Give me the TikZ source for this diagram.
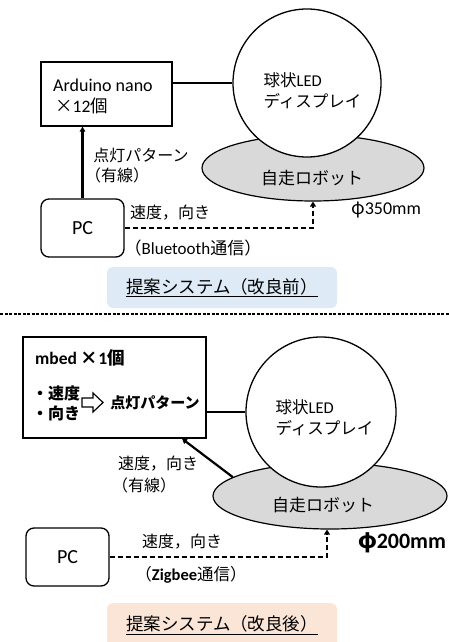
\documentclass[tikz,border=0pt]{standalone}
\usepackage{fontspec}
\setmainfont{Carlito}
\newfontfamily\J{Noto Sans CJK JP}
\usetikzlibrary{arrows.meta,shapes.geometric,calc}
\definecolor{robotgray}{HTML}{D9D9D9}
\definecolor{capblue}{HTML}{DEEBF7}
\definecolor{cappeach}{HTML}{FBE5D6}
\newcommand{\fs}[2][0]{\fontsize{#2}{21}\selectfont}
\begin{document}
\begin{tikzpicture}[x=1pt,y=-1pt,
  box/.style={draw,line width=1.3pt,inner sep=0pt,fill=white},
  txt/.style={inner sep=0pt},
  disc/.style={draw,circle,line width=1.3pt,fill=white,inner sep=0pt},
  robot/.style={draw,ellipse,line width=1.2pt,fill=robotgray,inner sep=0pt},
  conn/.style={line width=1.3pt},
  arr/.style={line width=2.2pt,-{Triangle[length=5pt,width=5.5pt]}},
  dsh/.style={line width=2.2pt,dash pattern=on 5pt off 3pt,-{Triangle[length=5pt,width=6pt]}},
  capbox/.style={rounded corners=6pt,inner sep=0pt},
  sepline/.style={line width=2pt,dash pattern=on 3pt off 1.5pt},
  hollow/.style={draw,line width=1.2pt,fill=white,line join=miter}
]
\useasboundingbox (0,0) rectangle (449,642);

% ---------- upper half ----------
\node[robot,minimum width=222,minimum height=66] (rob) at (313,168) {};
\node[disc,minimum size=148] (sph) at (307,83) {};
\node[txt,align=left,font=\fs{16.5}] (spht) at (312.5,91) {{\J 球状}LED\\{\J ディスプレイ}};
\node[txt,font=\fs{17}] (robt) at (312,178) {\J 自走ロボット};

\node[box,minimum width=131,minimum height=64] (ard) at (106.5,94) {};
\node[txt,anchor=west,font=\fs{18}] (ardt1) at (53,85) {Arduino nano};
\node[txt,anchor=west,font=\fs{17.5}] (ardt2) at (55,106) {{\J ×}12{\J 個}};
\draw[conn] (sph.west) -- (sph.west -| ard.east);

\node[box,rounded corners=8pt,minimum width=83,minimum height=58,font=\fs{20}] (pc) at (82.5,228) {PC};
\draw[arr] (pc.north) -- (pc.north |- ard.south);
\node[txt,font=\fs{16}] (lab1) at (141,155) {\J 点灯パターン};
\node[txt,font=\fs{16}] (lab2) at (117,175) {\J （有線）};

\draw[dsh] (pc.east) -| (rob.south);
\node[txt,font=\fs{16}] (lab3) at (170,213) {\J 速度，向き};
\node[txt,font=\fs{17}] (lab4) at (193,248) {{\J （}Bluetooth{\J 通信）}};
\node[txt,font=\fs{18}] (phi1) at (386,210) {{\J φ}350mm};

\node[capbox,fill=capblue,minimum width=230,minimum height=41,font=\fs{17.5}] (cap1) at (222,287.5) {\underline{\J 提案システム（改良前）}};

% ---------- separator ----------
\coordinate (sepL) at (0,314);
\coordinate (sepR) at (449,314);
\draw[sepline] (sepL) -- (sepR);

% ---------- lower half ----------
\node[robot,minimum width=234,minimum height=66] (rob2) at (330,496) {};
\node[disc,minimum size=150] (sph2) at (321,412) {};
\node[txt,align=left,font=\fs{16.5}] (sph2t) at (324.5,418) {{\J 球状}LED\\{\J ディスプレイ}};
\node[txt,font=\fs{17}] (rob2t) at (323,505) {\J 自走ロボット};

\node[box,minimum width=183,minimum height=101] (mbed) at (114.5,387.5) {};
\node[txt,anchor=west,font=\bfseries\fs{17.5}] (mbt1) at (35,358) {mbed {\J ×}1{\J 個}};
\node[txt,anchor=west,font=\bfseries\fs{16}] (mbt2) at (32,393) {\J ・速度};
\node[txt,anchor=west,font=\bfseries\fs{16}] (mbt3) at (32,413) {\J ・向き};
\coordinate (harr) at (92.5,402.5);
\draw[hollow] ($(harr)+(-10.5,-4.5)$) -- ($(harr)+(0.5,-4.5)$) -- ($(harr)+(0.5,-9.5)$)
  -- ($(harr)+(10.5,0)$) -- ($(harr)+(0.5,9.5)$) -- ($(harr)+(0.5,4.5)$)
  -- ($(harr)+(-10.5,4.5)$) -- cycle;
\node[txt,font=\bfseries\fs{15}] (mbt4) at (155,403) {\J 点灯パターン};
\draw[conn] (sph2.west) -- (sph2.west -| mbed.east);
\draw[arr] (rob2.169) -- (mbed);
\node[txt,font=\fs{16}] (lab5) at (158,464) {\J 速度，向き};
\node[txt,font=\fs{16}] (lab6) at (144,485) {\J （有線）};

\node[box,rounded corners=8pt,minimum width=83,minimum height=58,font=\fs{20}] (pc2) at (67.5,557) {PC};
\draw[dsh] (pc2.east) -| ($(rob2.south)+(-3,0)$);
\node[txt,font=\fs{16}] (lab7) at (182,542) {\J 速度，向き};
\node[txt,font=\fs{16.5}] (lab8) at (191,575) {{\J （}\textbf{Zigbee}{\J 通信）}};
\node[txt,font=\bfseries\fs{22}] (phi2) at (402,543) {{\J φ}200mm};

\begin{scope}
\clip (0,0) rectangle (449,642);
\node[capbox,fill=cappeach,minimum width=230,minimum height=60,anchor=north] (cap2) at (222,603) {};
\end{scope}
\node[txt,font=\fs{17.5}] (cap2t) at (222,625) {\underline{\J 提案システム（改良後）}};
\end{tikzpicture}
\end{document}
